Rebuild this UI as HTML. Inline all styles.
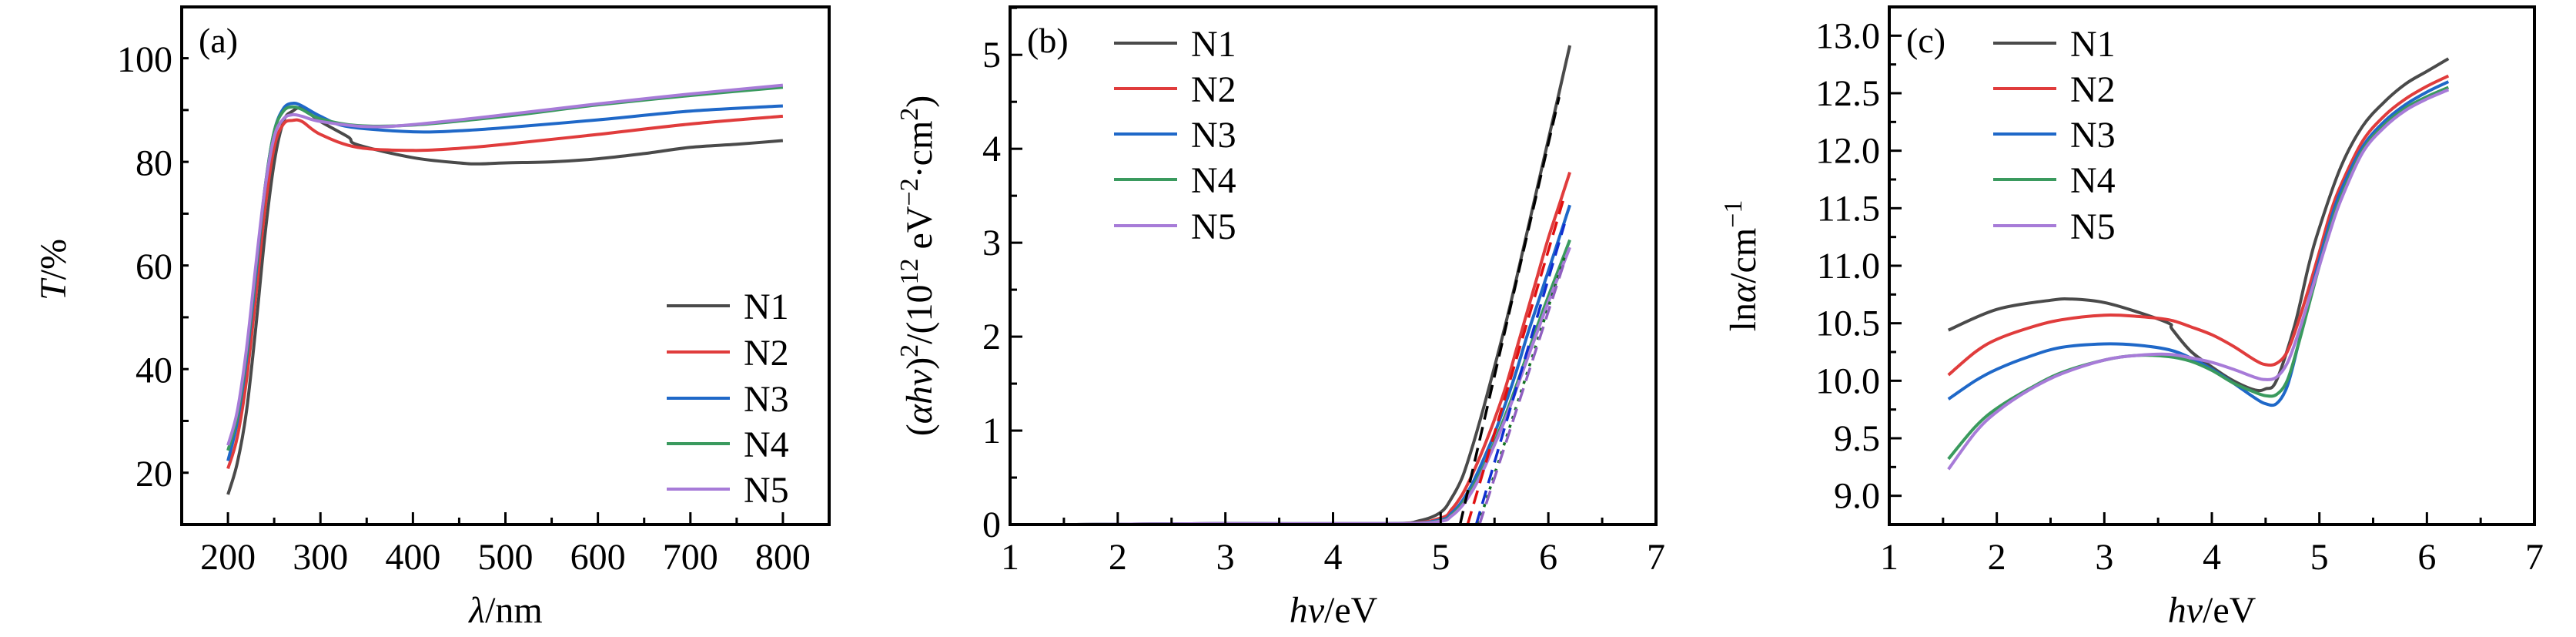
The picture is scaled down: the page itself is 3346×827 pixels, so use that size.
<!DOCTYPE html>
<html><head><meta charset="utf-8"><style>
html,body{margin:0;padding:0;background:#fff}
svg{display:block}
text{font-family:"Liberation Serif","DejaVu Serif",serif;fill:#000}
</style></head><body>
<svg id="fig" width="3346" height="827" viewBox="0 0 3346 827" xmlns="http://www.w3.org/2000/svg"></svg>
<script>
// ---------- Panel (a) data: transmittance T(%) vs wavelength (nm)
const aX1=[200,210,220,230,240,250,260,270,280,300,330,340,400,450,470,500,550,600,650,700,750,800];
const aN1=[16,22,32,48,66,80,88,90,90.5,88,85,83.5,81,80,79.8,80,80.2,80.8,81.8,83,83.6,84.3];
const aX2=[200,210,220,230,240,250,260,270,280,300,340,400,450,500,600,700,800];
const aN2=[21,27,38,54,71,83,87.5,88.2,88,85.5,83,82.4,82.8,83.6,85.5,87.5,89];
const aX3=[200,210,220,230,240,250,260,270,280,300,330,400,450,500,600,700,800];
const aN3=[22.5,30,42,58,75,86,90.5,91.5,91,89,87,86,86.2,86.8,88.3,90,91];
const aX4=[200,210,220,230,240,250,260,270,280,300,340,400,500,600,700,800];
const aN4=[24.5,31,43,59,75,86,90,90.8,90.3,88.5,87.2,87.3,89,91.2,93,94.6];
const aX5=[200,210,220,230,240,250,260,270,280,300,350,400,500,600,700,800];
const aN5=[25.5,32,44,60,75,85,88.5,89.3,89,88,87,87.4,89.3,91.4,93.3,95];
const aXTicks=[200,300,400,500,600,700,800];
const aYTicks=[20,40,60,80,100];
// ---------- Panel (b) data: (αhν)^2 vs hν
const bX1=[1.55,3,4.5,4.8,5.0,5.1,5.2,5.3,5.4,5.5,5.6,5.7,5.8,5.9,6.0,6.1,6.2];
const bN1=[0,0.01,0.01,0.04,0.13,0.28,0.5,0.85,1.25,1.68,2.12,2.6,3.1,3.6,4.1,4.6,5.1];
const bX=[1.55,3,4.6,5.0,5.1,5.2,5.3,5.4,5.5,5.6,5.7,5.8,5.9,6.0,6.1,6.2];
const bN2=[0,0.01,0.01,0.07,0.16,0.32,0.55,0.82,1.12,1.45,1.85,2.25,2.65,3.05,3.4,3.75];
const bN3=[0,0.01,0.01,0.05,0.12,0.25,0.45,0.7,0.97,1.28,1.62,2.0,2.35,2.7,3.05,3.4];
const bN4=[0,0.01,0.01,0.04,0.1,0.22,0.4,0.62,0.88,1.16,1.47,1.8,2.12,2.43,2.73,3.03];
const bN5=[0,0.01,0.01,0.035,0.09,0.2,0.37,0.59,0.85,1.12,1.43,1.75,2.06,2.37,2.66,2.95];
const bEg=[5.18,5.25,5.33,5.35,5.36];
const bFitEndX=[6.1,6.15,6.15,6.15,6.15];
const bFitEndY=[4.55,3.5,3.2,2.85,2.8];
const bXTicks=[1,2,3,4,5,6,7];
const bYTicks=[0,1,2,3,4,5];
// ---------- Panel (c) data: lnα vs hν
const cX1=[1.55,2.0,2.5,2.7,3.0,3.3,3.6,3.63,3.8,4.0,4.2,4.4,4.5,4.6,4.77,4.9,5.0,5.2,5.4,5.6,5.8,6.0,6.2];
const cN1=[10.44,10.62,10.70,10.71,10.68,10.60,10.50,10.45,10.26,10.12,10.0,9.92,9.93,10.0,10.48,11.0,11.33,11.86,12.21,12.42,12.58,12.69,12.8];
const cX=[1.55,1.8,2.0,2.3,2.6,3.0,3.3,3.6,3.8,4.0,4.2,4.4,4.5,4.6,4.7,4.8,4.9,5.0,5.1,5.2,5.4,5.6,5.8,6.0,6.2];
const cN2=[10.05,10.25,10.36,10.46,10.53,10.57,10.56,10.53,10.47,10.4,10.3,10.18,10.14,10.15,10.25,10.5,10.8,11.12,11.45,11.7,12.08,12.3,12.45,12.56,12.65];
const cN3=[9.84,10.0,10.1,10.21,10.29,10.32,10.31,10.27,10.2,10.1,9.98,9.85,9.8,9.8,9.95,10.3,10.7,11.05,11.38,11.65,12.03,12.25,12.4,12.51,12.6];
const cN4=[9.32,9.6,9.76,9.93,10.07,10.18,10.22,10.21,10.17,10.09,9.98,9.9,9.87,9.88,10.0,10.3,10.65,11.0,11.33,11.6,12.0,12.22,12.37,12.47,12.55];
const cN5=[9.23,9.55,9.73,9.92,10.06,10.18,10.22,10.23,10.2,10.16,10.1,10.03,10.01,10.03,10.15,10.4,10.7,11.0,11.3,11.57,11.98,12.2,12.35,12.45,12.53];
const cXTicks=[1,2,3,4,5,6,7];
const cYTicks=[9.0,9.5,10.0,10.5,11.0,11.5,12.0,12.5,13.0];
const seriesNames=["N1","N2","N3","N4","N5"];
const colors=["#4a4a4a","#e03c3c","#1f68c8","#3a9a5e","#a77bd8"];
const fitColors=["#000000","#e01010","#1030d0","#107020","#9060c0"];

const NS="http://www.w3.org/2000/svg";
const svg=document.getElementById('fig');
function el(tag,attrs,parent){const e=document.createElementNS(NS,tag);for(const k in attrs)e.setAttribute(k,attrs[k]);(parent||svg).appendChild(e);return e;}
function lin(d0,d1,r0,r1){return v=>r0+(v-d0)*(r1-r0)/(d1-d0);}
function smooth(pts){let d="M"+pts[0][0].toFixed(1)+","+pts[0][1].toFixed(1);
 for(let i=0;i<pts.length-1;i++){const p0=pts[Math.max(0,i-1)],p1=pts[i],p2=pts[i+1],p3=pts[Math.min(pts.length-1,i+2)];
  const c1=[p1[0]+(p2[0]-p0[0])/6,p1[1]+(p2[1]-p0[1])/6],c2=[p2[0]-(p3[0]-p1[0])/6,p2[1]-(p3[1]-p1[1])/6];
  d+="C"+c1[0].toFixed(1)+","+c1[1].toFixed(1)+" "+c2[0].toFixed(1)+","+c2[1].toFixed(1)+" "+p2[0].toFixed(1)+","+p2[1].toFixed(1);}
 return d;}

function panel(cfg){
 const g=el('g',{});
 
 
 const X=lin(cfg.xd[0],cfg.xd[1],cfg.L,cfg.R), Y=lin(cfg.yd[0],cfg.yd[1],cfg.B,cfg.T);
 const clip=el('clipPath',{id:cfg.name+'-clip'},g);
 el('rect',{x:cfg.L,y:cfg.T,width:cfg.R-cfg.L,height:cfg.B-cfg.T},clip);
 const lines=el('g',{'clip-path':'url(#'+cfg.name+'-clip)'},g);
 cfg.series.forEach((s,i)=>{
  const p=el('path',{d:smooth(s.x.map((v,j)=>[X(v),Y(s.y[j])])),fill:'none',stroke:colors[i],'stroke-width':4,'stroke-linejoin':'round'},lines);
  
  
 });
 if(cfg.fits){cfg.fits.forEach((f,i)=>{
  const p=el('line',{x1:X(f[0]),y1:Y(0),x2:X(f[1]),y2:Y(f[2]),stroke:fitColors[i],'stroke-width':3.5,'stroke-dasharray':i==3?'4 8':'18 10'},lines);
  
  
 });}
 const frame=el('rect',{x:cfg.L,y:cfg.T,width:cfg.R-cfg.L,height:cfg.B-cfg.T,fill:'none',stroke:'#000','stroke-width':4},g);
 
 
 // ticks
 const tg=el('g',{stroke:'#000','stroke-width':3},g);
 for(let v=cfg.xd[0];v<=cfg.xd[1]+1e-9;v+=cfg.xminor){const major=cfg.xt.some(t=>Math.abs(t-v)<1e-6);
  if(Math.abs(v-cfg.xd[0])<1e-6||Math.abs(v-cfg.xd[1])<1e-6)continue;
  el('line',{x1:X(v),x2:X(v),y1:cfg.B,y2:cfg.B-(major?16:9)},tg);}
 for(let v=cfg.yd[0];v<=cfg.yd[1]+1e-9;v+=cfg.yminor){const major=cfg.yt.some(t=>Math.abs(t-v)<1e-6);
  if(Math.abs(v-cfg.yd[0])<1e-6)continue;
  el('line',{y1:Y(v),y2:Y(v),x1:cfg.L,x2:cfg.L+(major?16:9)},tg);}
 cfg.xt.forEach(v=>{const t=el('text',{x:X(v),y:cfg.B+58,'font-size':48,'text-anchor':'middle'},g);t.textContent=String(v);
  });
 cfg.yt.forEach(v=>{const t=el('text',{x:cfg.L-12,y:Y(v)+16,'font-size':48,'text-anchor':'end'},g);t.textContent=cfg.yfmt?cfg.yfmt(v):String(v);
  });
 // panel letter
 const pl=el('text',{x:cfg.L+22,y:68,'font-size':46},g);pl.textContent=cfg.letter;
 
 // legend
 const lg=el('g',{},g);
 
 
 seriesNames.forEach((n,i)=>{const y=cfg.legY[i];
  const e=el('g',{},lg);
  
  
  el('line',{x1:cfg.legX,x2:cfg.legX+82,y1:y,y2:y,stroke:colors[i],'stroke-width':4},e);
  const t=el('text',{x:cfg.legX+100,y:y+17,'font-size':48},e);t.textContent=n;});
 return {g,X,Y};
}

const legRowsA=[397,457,517,576,635], legRowsB=[56,115,174,233,293];
const pa=panel({name:'panel-a',letter:'(a)',L:236,R:1077,T:9,B:681,xd:[150,850],yd:[10.2,110.1],xt:aXTicks,yt:aYTicks,xminor:50,yminor:10,
 series:[{x:aX1,y:aN1},{x:aX2,y:aN2},{x:aX3,y:aN3},{x:aX4,y:aN4},{x:aX5,y:aN5}],legX:866,legY:legRowsA});
const pb=panel({name:'panel-b',letter:'(b)',L:1312,R:2151,T:9,B:681,xd:[1,7],yd:[0,5.51],xt:bXTicks,yt:bYTicks,xminor:0.5,yminor:0.5,
 series:[{x:bX1,y:bN1},{x:bX,y:bN2},{x:bX,y:bN3},{x:bX,y:bN4},{x:bX,y:bN5}],
 fits:bEg.map((e,i)=>[e,bFitEndX[i],bFitEndY[i]]),legX:1447,legY:legRowsB});
const pc=panel({name:'panel-c',letter:'(c)',L:2454,R:3292,T:9,B:681,xd:[1,7],yd:[8.75,13.25],xt:cXTicks,yt:cYTicks,xminor:0.5,yminor:0.25,yfmt:v=>v.toFixed(1),
 series:[{x:cX1,y:cN1},{x:cX,y:cN2},{x:cX,y:cN3},{x:cX,y:cN4},{x:cX,y:cN5}],legX:2589,legY:legRowsB});

// axis titles
function title(html,x,y,rot,name){const t=el('text',{x:x,y:y,'font-size':48,'text-anchor':'middle',transform:rot?'rotate(-90 '+x+' '+y+')':''});
 t.innerHTML=html;}
title('<tspan font-style="italic">T</tspan>/%',85,350,true,'y-axis-title-a');
title('<tspan font-style="italic">λ</tspan>/nm',657,808,false,'x-axis-title-a');
title('(<tspan font-style="italic">αhν</tspan>)<tspan dy="-18" font-size="34">2</tspan><tspan dy="18">/(10</tspan><tspan dy="-18" font-size="34">12</tspan><tspan dy="18"> eV</tspan><tspan dy="-18" font-size="34">−2</tspan><tspan dy="18">·cm</tspan><tspan dy="-18" font-size="34">2</tspan><tspan dy="18">)</tspan>',1210,345,true,'y-axis-title-b');
title('<tspan font-style="italic">hν</tspan>/eV',1732,808,false,'x-axis-title-b');
title('ln<tspan font-style="italic">α</tspan>/cm<tspan dy="-18" font-size="34">−1</tspan>',2280,345,true,'y-axis-title-c');
title('<tspan font-style="italic">hν</tspan>/eV',2873,808,false,'x-axis-title-c');
</script>
</body></html>
